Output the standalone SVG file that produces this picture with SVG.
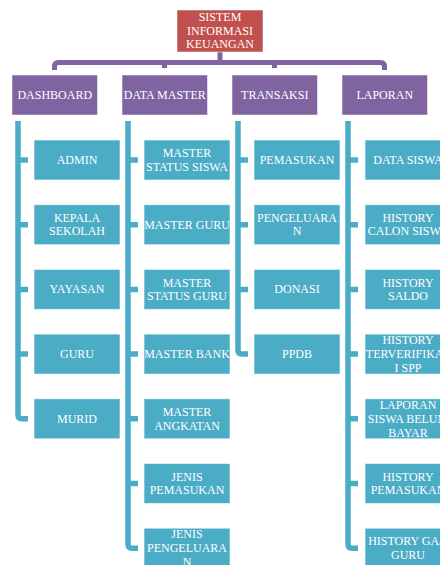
<svg xmlns="http://www.w3.org/2000/svg" width="440" height="565" viewBox="0 0 440 565">
<style>
.t{font-family:"Liberation Serif","Times New Roman",serif;font-size:12px;fill:#fff;text-anchor:middle}
.root{fill:#C0504D;stroke:#fff;stroke-opacity:.5;stroke-width:1}
.l1{fill:#8064A2;stroke:#fff;stroke-opacity:.5;stroke-width:1}
.l2{fill:#4BACC6;stroke:#fff;stroke-opacity:.6;stroke-width:1}
.cp{fill:none;stroke:#8064A2;stroke-width:5;stroke-linejoin:round}
.cb{fill:none;stroke:#4BACC6;stroke-width:5.5;stroke-linejoin:round}
</style>
<rect width="440" height="565" fill="#fff"/>
<g id="connectors">
<path class="cp" d="M220,52 V62.5 M54.5,70 V66.5 Q54.5,62.5 58.5,62.5 H380.5 Q384.5,62.5 384.5,66.5 V70 M164.5,62.5 V68 M274.5,62.5 V68"/>
<path class="cb" d="M18,121 V414.8 Q18,418.8 22,418.8 H28 M18,160 H28 M18,224.7 H28 M18,289.4 H28 M18,354.1 H28"/>
<path class="cb" d="M128,121 V544.2 Q128,548.2 132,548.2 H138 M128,160 H138 M128,224.7 H138 M128,289.4 H138 M128,354.1 H138 M128,418.8 H138 M128,483.5 H138"/>
<path class="cb" d="M238,121 V350.1 Q238,354.1 242,354.1 H248 M238,160 H248 M238,224.7 H248 M238,289.4 H248"/>
<path class="cb" d="M348,121 V544.2 Q348,548.2 352,548.2 H358 M348,160 H358 M348,224.7 H358 M348,289.4 H358 M348,354.1 H358 M348,418.8 H358 M348,483.5 H358"/>
</g>
<g id="root"><rect class="root" x="177" y="10" width="86" height="42"/><text class="t" x="220"><tspan x="220" y="21">SISTEM</tspan><tspan x="220" y="34.5">INFORMASI</tspan><tspan x="220" y="48">KEUANGAN</tspan></text></g>
<g id="dashboard"><rect class="l1" x="12" y="75" width="85.5" height="40"/><text class="t" x="54.75" y="99">DASHBOARD</text></g>
<g id="datamaster"><rect class="l1" x="122" y="75" width="85.5" height="40"/><text class="t" x="164.75" y="99">DATA MASTER</text></g>
<g id="transaksi"><rect class="l1" x="232" y="75" width="85.5" height="40"/><text class="t" x="274.75" y="99">TRANSAKSI</text></g>
<g id="laporan"><rect class="l1" x="342" y="75" width="85.5" height="40"/><text class="t" x="384.75" y="99">LAPORAN</text></g>

<g id="admin"><rect class="l2" x="34" y="140" width="86" height="40"/><text class="t" x="77" y="164">ADMIN</text></g>
<g id="kepala"><rect class="l2" x="34" y="204.7" width="86" height="40"/><text class="t"><tspan x="77" y="221.9">KEPALA</tspan><tspan x="77" y="235.4">SEKOLAH</tspan></text></g>
<g id="yayasan"><rect class="l2" x="34" y="269.4" width="86" height="40"/><text class="t" x="77" y="293.4">YAYASAN</text></g>
<g id="guru"><rect class="l2" x="34" y="334.1" width="86" height="40"/><text class="t" x="77" y="358.1">GURU</text></g>
<g id="murid"><rect class="l2" x="34" y="398.8" width="86" height="40"/><text class="t" x="77" y="422.8">MURID</text></g>

<g id="msiswa"><rect class="l2" x="144" y="140" width="86" height="40"/><text class="t"><tspan x="187" y="157.2">MASTER</tspan><tspan x="187" y="170.7">STATUS SISWA</tspan></text></g>
<g id="mguru"><rect class="l2" x="144" y="204.7" width="86" height="40"/><text class="t" x="187" y="228.7">MASTER GURU</text></g>
<g id="mstatusguru"><rect class="l2" x="144" y="269.4" width="86" height="40"/><text class="t"><tspan x="187" y="286.6">MASTER</tspan><tspan x="187" y="300.1">STATUS GURU</tspan></text></g>
<g id="mbank"><rect class="l2" x="144" y="334.1" width="86" height="40"/><text class="t" x="187" y="358.1">MASTER BANK</text></g>
<g id="mangkatan"><rect class="l2" x="144" y="398.8" width="86" height="40"/><text class="t"><tspan x="187" y="416">MASTER</tspan><tspan x="187" y="429.5">ANGKATAN</tspan></text></g>
<g id="jpemasukan"><rect class="l2" x="144" y="463.5" width="86" height="40"/><text class="t"><tspan x="187" y="480.7">JENIS</tspan><tspan x="187" y="494.2">PEMASUKAN</tspan></text></g>
<g id="jpengeluaran"><rect class="l2" x="144" y="528.2" width="86" height="40"/><text class="t"><tspan x="187" y="538.2">JENIS</tspan><tspan x="187" y="552.2">PENGELUARA</tspan><tspan x="187" y="566.2">N</tspan></text></g>

<g id="pemasukan"><rect class="l2" x="254" y="140" width="86" height="40"/><text class="t" x="297" y="164">PEMASUKAN</text></g>
<g id="pengeluaran"><rect class="l2" x="254" y="204.7" width="86" height="40"/><text class="t"><tspan x="297" y="221.9">PENGELUARA</tspan><tspan x="297" y="235.4">N</tspan></text></g>
<g id="donasi"><rect class="l2" x="254" y="269.4" width="86" height="40"/><text class="t" x="297" y="293.4">DONASI</text></g>
<g id="ppdb"><rect class="l2" x="254" y="334.1" width="86" height="40"/><text class="t" x="297" y="358.1">PPDB</text></g>

<g id="datasiswa"><rect class="l2" x="365" y="140" width="86" height="40"/><text class="t" x="408" y="164">DATA SISWA</text></g>
<g id="hcalon"><rect class="l2" x="365" y="204.7" width="86" height="40"/><text class="t"><tspan x="408" y="221.9">HISTORY</tspan><tspan x="408" y="235.4">CALON SISWA</tspan></text></g>
<g id="hsaldo"><rect class="l2" x="365" y="269.4" width="86" height="40"/><text class="t"><tspan x="408" y="286.6">HISTORY</tspan><tspan x="408" y="300.1">SALDO</tspan></text></g>
<g id="hterverifikasi"><rect class="l2" x="365" y="334.1" width="86" height="40"/><text class="t"><tspan x="408" y="344.1">HISTORY</tspan><tspan x="408" y="358.1">TERVERIFIKAS</tspan><tspan x="408" y="372.1">I SPP</tspan></text></g>
<g id="lbelumbayar"><rect class="l2" x="365" y="398.8" width="86" height="40"/><text class="t"><tspan x="408" y="408.8">LAPORAN</tspan><tspan x="408" y="422.8">SISWA BELUM</tspan><tspan x="408" y="436.8">BAYAR</tspan></text></g>
<g id="hpemasukan"><rect class="l2" x="365" y="463.5" width="86" height="40"/><text class="t"><tspan x="408" y="480.7">HISTORY</tspan><tspan x="408" y="494.2">PEMASUKAN</tspan></text></g>
<g id="hgaji"><rect class="l2" x="365" y="528.2" width="86" height="40"/><text class="t"><tspan x="408" y="545.4">HISTORY GAJI</tspan><tspan x="408" y="558.9">GURU</tspan></text></g>
</svg>
